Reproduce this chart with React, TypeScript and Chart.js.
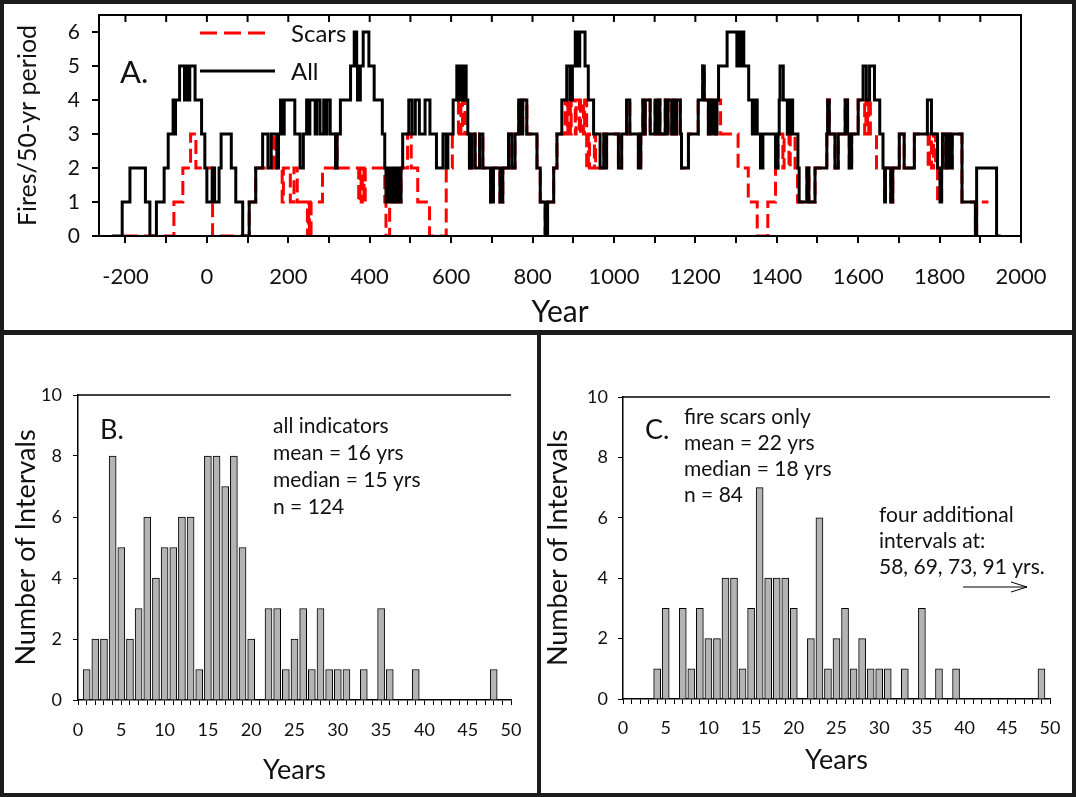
import React, { useEffect, useRef } from 'react';
import { Chart, registerables } from 'chart.js';

Chart.register(...registerables);

const FONT = 'Lato, "Open Sans", "DejaVu Sans", sans-serif';

// ---------- Panel A: fires per 50-yr period (step series: [year, count from that year on]) ----------
const allSteps: [number, number][] = [
  [-233, 0], [-208, 1], [-189, 2], [-151, 1], [-140, 0], [-124, 1], [-105, 2], [-95, 3], [-83, 4], [-79, 3],
  [-77, 4], [-67, 5], [-55, 4], [-51, 5], [-45, 4], [-42, 5], [-29, 4], [-13, 3], [-5, 2], [0, 1],
  [13, 2], [19, 1], [30, 2], [35, 3], [60, 2], [71, 1], [88, 0], [104, 1], [120, 2], [137, 3],
  [150, 2], [158, 3], [172, 2], [176, 3], [181, 4], [186, 3], [190, 4], [216, 3], [229, 2], [237, 3],
  [245, 4], [250, 3], [253, 4], [266, 3], [270, 4], [278, 3], [287, 4], [291, 3], [295, 4], [303, 3],
  [316, 2], [320, 3], [328, 4], [353, 5], [362, 6], [368, 5], [370, 4], [377, 5], [384, 6], [398, 5],
  [411, 4], [431, 3], [437, 2], [440, 1], [446, 2], [449, 1], [456, 2], [460, 1], [466, 2], [470, 1],
  [477, 2], [481, 3], [496, 4], [504, 3], [512, 4], [522, 3], [536, 4], [548, 3], [564, 2], [580, 3],
  [588, 2], [592, 3], [605, 4], [614, 5], [620, 4], [624, 5], [628, 4], [631, 5], [637, 4], [641, 3],
  [645, 2], [651, 3], [659, 2], [670, 3], [678, 2], [697, 1], [704, 2], [720, 1], [727, 2], [741, 3],
  [749, 2], [757, 3], [766, 4], [770, 3], [776, 4], [786, 3], [811, 2], [819, 1], [831, 0], [837, 1],
  [852, 2], [860, 3], [872, 4], [884, 5], [892, 4], [898, 5], [905, 6], [908, 5], [910, 6], [914, 5],
  [916, 6], [929, 5], [937, 4], [950, 3], [966, 2], [975, 3], [978, 2], [982, 3], [1011, 2], [1019, 3],
  [1031, 4], [1039, 3], [1060, 2], [1066, 3], [1071, 4], [1074, 3], [1077, 4], [1089, 3], [1101, 4], [1106, 3],
  [1109, 4], [1113, 3], [1126, 4], [1130, 3], [1133, 4], [1142, 3], [1146, 4], [1150, 3], [1154, 4], [1163, 3],
  [1166, 2], [1183, 3], [1207, 4], [1218, 5], [1222, 4], [1232, 3], [1236, 4], [1240, 3], [1245, 4], [1249, 3],
  [1253, 4], [1257, 5], [1278, 6], [1302, 5], [1304, 6], [1307, 5], [1309, 6], [1312, 5], [1314, 6], [1319, 5],
  [1331, 4], [1340, 3], [1345, 4], [1352, 3], [1360, 2], [1366, 3], [1397, 2], [1403, 3], [1406, 4], [1408, 5],
  [1416, 4], [1426, 3], [1432, 4], [1439, 3], [1452, 2], [1455, 1], [1474, 2], [1479, 1], [1494, 2], [1523, 3],
  [1525, 4], [1529, 3], [1543, 2], [1551, 3], [1568, 4], [1574, 3], [1578, 2], [1584, 3], [1600, 4], [1612, 5],
  [1620, 4], [1628, 5], [1640, 4], [1653, 3], [1661, 2], [1665, 1], [1667, 2], [1680, 1], [1685, 2], [1701, 3],
  [1713, 2], [1738, 3], [1770, 4], [1780, 3], [1795, 2], [1801, 1], [1805, 2], [1807, 3], [1815, 2], [1820, 3],
  [1826, 2], [1831, 3], [1855, 1], [1888, 0], [1891, 2], [1940, 0], [1950, 0],
];

const scarSteps: [number, number][] = [
  [-204, 0], [-81, 1], [-59, 2], [-40, 3], [-27, 2], [14, 0], [104, 1], [120, 2], [163, 3], [168, 2],
  [185, 1], [188, 2], [205, 1], [214, 2], [222, 1], [247, 0], [250, 1], [252, 0], [256, 1], [284, 2],
  [316, 3], [320, 2], [373, 1], [376, 2], [379, 1], [382, 2], [386, 1], [389, 2], [437, 1], [440, 0],
  [449, 1], [477, 2], [493, 3], [502, 2], [518, 1], [547, 0], [588, 2], [603, 3], [618, 4], [624, 3],
  [628, 4], [634, 3], [645, 2], [651, 3], [659, 2], [670, 3], [678, 2], [697, 1], [704, 2], [720, 1],
  [727, 2], [741, 3], [749, 2], [757, 3], [766, 4], [770, 3], [776, 4], [786, 3], [811, 2], [819, 1],
  [831, 0], [837, 1], [852, 2], [860, 3], [880, 4], [885, 3], [887, 4], [893, 3], [895, 4], [905, 3],
  [907, 4], [915, 3], [918, 4], [925, 3], [928, 4], [933, 2], [937, 3], [940, 2], [952, 3], [955, 2],
  [975, 3], [978, 2], [982, 3], [1011, 2], [1019, 3], [1031, 4], [1039, 3], [1060, 2], [1066, 3], [1071, 4],
  [1074, 3], [1077, 4], [1089, 3], [1101, 4], [1106, 3], [1109, 4], [1113, 3], [1126, 4], [1130, 3], [1133, 4],
  [1142, 3], [1146, 4], [1150, 3], [1154, 4], [1163, 3], [1166, 2], [1183, 3], [1207, 4], [1218, 5], [1222, 4],
  [1232, 3], [1236, 4], [1240, 3], [1245, 4], [1249, 3], [1253, 4], [1262, 3], [1305, 2], [1330, 1], [1352, 0],
  [1378, 1], [1397, 2], [1403, 3], [1415, 2], [1418, 3], [1430, 2], [1433, 3], [1445, 2], [1451, 1], [1474, 2],
  [1479, 1], [1494, 2], [1523, 3], [1525, 4], [1529, 3], [1543, 2], [1551, 3], [1568, 4], [1574, 3], [1578, 2],
  [1584, 3], [1600, 4], [1616, 3], [1619, 4], [1623, 3], [1626, 4], [1630, 3], [1645, 2], [1665, 1], [1667, 2],
  [1680, 1], [1685, 2], [1701, 3], [1713, 2], [1738, 3], [1772, 2], [1775, 3], [1780, 2], [1785, 3], [1790, 2],
  [1795, 1], [1805, 2], [1807, 3], [1815, 2], [1820, 3], [1826, 2], [1831, 3], [1855, 1], [1888, 0], [1891, 1],
  [1920, 1],
];

const yearMin = -265;
const yearMax = 2000;
const legendLabels = ['Scars', 'All'];

// ---------- Panels B and C: fire-interval histograms ----------
const intervalYears = [
  1, 2, 3, 4, 5, 6, 7, 8, 9, 10, 11, 12, 13, 14, 15, 16, 17, 18, 19, 20, 21, 22, 23, 24, 25,
  26, 27, 28, 29, 30, 31, 32, 33, 34, 35, 36, 37, 38, 39, 40, 41, 42, 43, 44, 45, 46, 47, 48, 49,
];
const allIndicatorCounts = [
  1, 2, 2, 8, 5, 2, 3, 6, 4, 5, 5, 6, 6, 1, 8, 8, 7, 8, 5, 2, 0, 3, 3, 1, 2,
  3, 1, 3, 1, 1, 1, 0, 1, 0, 3, 1, 0, 0, 1, 0, 0, 0, 0, 0, 0, 0, 0, 1, 0,
];
const fireScarCounts = [
  0, 0, 0, 1, 3, 0, 3, 1, 3, 2, 2, 4, 4, 1, 3, 7, 4, 4, 4, 3, 0, 2, 6, 1, 2,
  3, 1, 2, 1, 1, 1, 0, 1, 0, 3, 0, 1, 0, 1, 0, 0, 0, 0, 0, 0, 0, 0, 0, 1,
];
const notesB = ['all indicators', 'mean = 16 yrs', 'median = 15 yrs', 'n = 124'];
const notesC = ['fire scars only', 'mean = 22 yrs', 'median = 18 yrs', 'n = 84'];
const notesCExtra = ['four additional', 'intervals at:', '58, 69, 73, 91 yrs.'];

const zeroPad = (s: any) => {
  s.paddingLeft = 0;
  s.paddingRight = 0;
  s.paddingTop = 0;
  s.paddingBottom = 0;
};

function text(ctx: CanvasRenderingContext2D, t: string, x: number, y: number, size: number) {
  ctx.save();
  ctx.font = `${size}px ${FONT}`;
  ctx.fillStyle = '#111';
  ctx.textAlign = 'left';
  ctx.textBaseline = 'middle';
  ctx.fillText(t, x, y);
  ctx.restore();
}

function makeA(canvas: HTMLCanvasElement) {
  const framePlugin = {
    id: 'frameA',
    afterDatasetsDraw(chart: any) {
      const { ctx, chartArea: a, scales } = chart;
      ctx.save();
      ctx.strokeStyle = '#000';
      ctx.lineWidth = 2;
      ctx.strokeRect(a.left, a.top, a.right - a.left, a.bottom - a.top);
      const xs = scales.x;
      ctx.beginPath();
      xs.ticks.forEach((t: any) => {
        const px = xs.getPixelForValue(t.value);
        ctx.moveTo(px, a.top);
        ctx.lineTo(px, a.top + 7);
      });
      ctx.stroke();
      // legend + panel letter
      text(ctx, 'A.', a.left + 21, a.top + 58, 31);
      ctx.lineWidth = 3;
      ctx.strokeStyle = '#f00';
      ctx.setLineDash([17, 7]);
      ctx.beginPath();
      ctx.moveTo(a.left + 101, a.top + 18);
      ctx.lineTo(a.left + 166, a.top + 18);
      ctx.stroke();
      ctx.setLineDash([]);
      ctx.strokeStyle = '#000';
      ctx.beginPath();
      ctx.moveTo(a.left + 101, a.top + 56);
      ctx.lineTo(a.left + 176, a.top + 56);
      ctx.stroke();
      text(ctx, legendLabels[0], a.left + 192, a.top + 19, 24);
      text(ctx, legendLabels[1], a.left + 192, a.top + 57, 24);
      ctx.restore();
    },
  };
  return new Chart(canvas, {
    type: 'line',
    data: {
      datasets: [
        {
          label: legendLabels[1],
          data: allSteps.map(([x, y]) => ({ x, y })),
          stepped: true,
          borderColor: '#000',
          borderWidth: 3,
          pointRadius: 0,
          fill: false,
        },
        {
          label: legendLabels[0],
          data: scarSteps.map(([x, y]) => ({ x, y })),
          stepped: true,
          borderColor: '#f00',
          borderWidth: 3,
          borderDash: [14, 6],
          pointRadius: 0,
          fill: false,
        },
      ],
    },
    options: {
      responsive: false,
      animation: false,
      devicePixelRatio: 1,
      layout: { padding: { left: 9, right: 51, top: 11, bottom: 0 } },
      plugins: { legend: { display: false }, tooltip: { enabled: false } },
      scales: {
        x: {
          type: 'linear',
          min: yearMin,
          max: yearMax,
          afterFit: (s: any) => { s.height = 94; zeroPad(s); },
          border: { display: false },
          grid: { drawOnChartArea: false, tickLength: 7, color: '#000', lineWidth: 2 },
          ticks: {
            stepSize: 100,
            includeBounds: false,
            autoSkip: false,
            maxRotation: 0,
            padding: 21,
            color: '#111',
            font: { family: FONT, size: 22 },
            callback: (v: any) => (Number(v) % 200 === 0 ? String(v) : ''),
          },
          title: { display: true, text: 'Year', color: '#111', padding: 0, font: { family: FONT, size: 30 } },
        },
        y: {
          min: 0,
          max: 6.5,
          afterFit: (s: any) => { s.width = 86; zeroPad(s); },
          border: { display: false },
          grid: { drawOnChartArea: false, tickLength: 7, color: '#000', lineWidth: 2 },
          ticks: {
            stepSize: 1,
            includeBounds: false,
            padding: 12,
            color: '#111',
            font: { family: FONT, size: 21 },
          },
          title: { display: true, text: 'Fires/50-yr period', color: '#111', padding: 0, font: { family: FONT, size: 25 } },
        },
      },
    },
    plugins: [framePlugin],
  } as any);
}

function makeHist(
  canvas: HTMLCanvasElement,
  counts: number[],
  dims: { padL: number; yW: number; padR: number; padT: number; xH: number; padB: number; xPad: number; yPad: number },
  draw: (ctx: CanvasRenderingContext2D, a: any) => void,
) {
  const plugin = {
    id: 'histDeco',
    afterDraw(chart: any) {
      const { ctx, chartArea: a } = chart;
      ctx.save();
      ctx.strokeStyle = '#000';
      ctx.lineWidth = 1.5;
      ctx.beginPath();
      ctx.moveTo(a.left, a.top);
      ctx.lineTo(a.right, a.top);
      ctx.stroke();
      draw(ctx, a);
      ctx.restore();
    },
  };
  return new Chart(canvas, {
    type: 'bar',
    data: {
      datasets: [
        {
          data: intervalYears.map((x, i) => ({ x, y: counts[i] })),
          backgroundColor: '#b4b4b4',
          borderColor: '#000',
          borderWidth: 1,
          barThickness: 7,
        },
      ],
    },
    options: {
      responsive: false,
      animation: false,
      devicePixelRatio: 1,
      layout: { padding: { left: dims.padL, right: dims.padR, top: dims.padT, bottom: dims.padB } },
      plugins: { legend: { display: false }, tooltip: { enabled: false } },
      scales: {
        x: {
          type: 'linear',
          min: 0,
          max: 50,
          offset: false,
          afterFit: (s: any) => { s.height = dims.xH; zeroPad(s); },
          border: { display: true, color: '#000', width: 1.5 },
          grid: { offset: false, drawOnChartArea: false, tickLength: 5, color: '#000', lineWidth: 1 },
          ticks: {
            stepSize: 1,
            autoSkip: false,
            maxRotation: 0,
            padding: dims.xPad,
            color: '#111',
            font: { family: FONT, size: 18 },
            callback: (v: any) => (Number(v) % 5 === 0 ? String(v) : ''),
          },
          title: { display: true, text: 'Years', color: '#111', padding: 0, font: { family: FONT, size: 27 } },
        },
        y: {
          min: 0,
          max: 10,
          afterFit: (s: any) => { s.width = dims.yW; zeroPad(s); },
          border: { display: true, color: '#000', width: 1.5 },
          grid: { drawOnChartArea: false, tickLength: 5, color: '#000', lineWidth: 1 },
          ticks: { stepSize: 2, padding: dims.yPad, color: '#111', font: { family: FONT, size: 18 } },
          title: { display: true, text: 'Number of Intervals', color: '#111', padding: 0, font: { family: FONT, size: 27 } },
        },
      },
    },
    plugins: [plugin],
  } as any);
}

export default function App() {
  const aRef = useRef<HTMLCanvasElement>(null);
  const bRef = useRef<HTMLCanvasElement>(null);
  const cRef = useRef<HTMLCanvasElement>(null);

  useEffect(() => {
    const charts: Chart[] = [];
    if (aRef.current) charts.push(makeA(aRef.current));
    if (bRef.current)
      charts.push(
        makeHist(
          bRef.current,
          allIndicatorCounts,
          { padL: 6, yW: 68, padR: 26, padT: 60, xH: 86, padB: 7, xPad: 14, yPad: 11 },
          (ctx, a) => {
            text(ctx, 'B.', a.left + 22, a.top + 35, 27);
            notesB.forEach((t, i) => text(ctx, t, a.left + 195, a.top + 31 + i * 27, 21));
          },
        ),
      );
    if (cRef.current)
      charts.push(
        makeHist(
          cRef.current,
          fireScarCounts,
          { padL: 1, yW: 81, padR: 22, padT: 62, xH: 77, padB: 17, xPad: 13, yPad: 10 },
          (ctx, a) => {
            text(ctx, 'C.', a.left + 22, a.top + 33, 27);
            notesC.forEach((t, i) => text(ctx, t, a.left + 61, a.top + 20 + i * 26, 21));
            notesCExtra.forEach((t, i) => text(ctx, t, a.left + 256, a.top + 118 + i * 26, 21));
            const y = a.top + 190;
            const x1 = a.left + 340;
            const x2 = a.left + 404;
            ctx.strokeStyle = '#000';
            ctx.lineWidth = 1;
            ctx.beginPath();
            ctx.moveTo(x1, y);
            ctx.lineTo(x2, y);
            ctx.moveTo(x2 - 16, y - 5);
            ctx.lineTo(x2, y);
            ctx.lineTo(x2 - 16, y + 5);
            ctx.stroke();
          },
        ),
      );
    return () => charts.forEach((c) => c.destroy());
  }, []);

  const panel = (left: number, top: number, w: number, h: number, ref: any) => (
    <div style={{ position: 'absolute', left, top, width: w, height: h, background: '#fff' }}>
      <canvas ref={ref} width={w} height={h} style={{ display: 'block', width: w, height: h }} />
    </div>
  );

  return (
    <div style={{ position: 'fixed', left: 0, top: 0, width: 1076, height: 797, background: '#1c1c1c', overflow: 'hidden' }}>
      {panel(4, 4, 1068, 326, aRef)}
      {panel(4, 335, 533, 458, bRef)}
      {panel(541, 335, 531, 458, cRef)}
    </div>
  );
}
